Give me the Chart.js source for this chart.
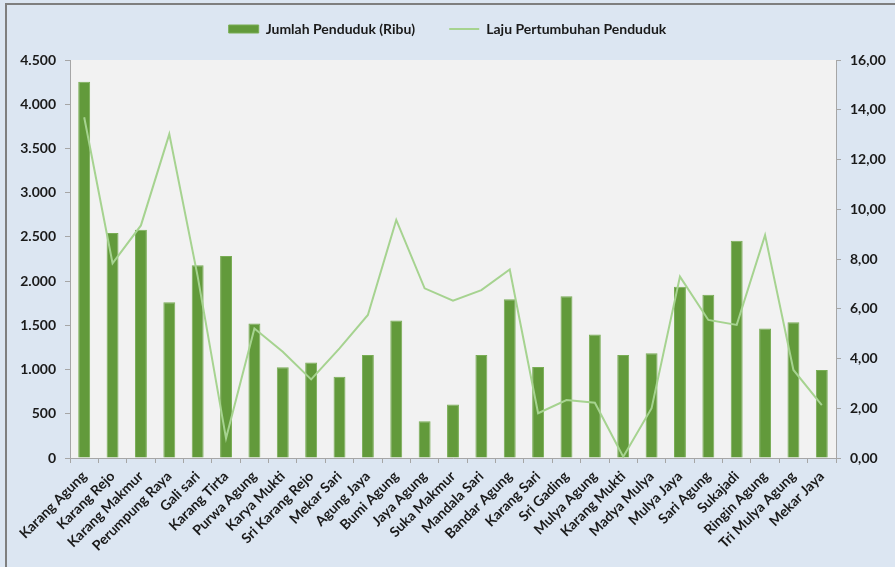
<!DOCTYPE html>
<html>
<head>
    <script src="https://cdn.jsdelivr.net/npm/chart.js"></script>
    <style>
        body { margin: 0; background: #dce6f2; }
    </style>
</head>
<body>
    <canvas id="chart" width="895" height="567"></canvas>
    <script>
        const desa = ['Karang Agung', 'Karang Rejo', 'Karang Makmur', 'Perumpung Raya', 'Gali sari', 'Karang Tirta',
            'Purwa Agung', 'Karya Mukti', 'Sri Karang Rejo', 'Mekar Sari', 'Agung Jaya', 'Bumi Agung', 'Jaya Agung',
            'Suka Makmur', 'Mandala Sari', 'Bandar Agung', 'Karang Sari', 'Sri Gading', 'Mulya Agung', 'Karang Mukti',
            'Madya Mulya', 'Mulya Jaya', 'Sari Agung', 'Sukajadi', 'Ringin Agung', 'Tri Mulya Agung', 'Mekar Jaya'];

        // jumlah penduduk (ribu), sumbu kiri
        const jumlahPenduduk = [4255, 2545, 2580, 1760, 2180, 2285, 1520, 1025, 1080, 920, 1165, 1555, 415,
            605, 1165, 1795, 1030, 1830, 1395, 1165, 1185, 1935, 1845, 2455, 1465, 1535, 995];

        // laju pertumbuhan (%), sumbu kanan
        const lajuPertumbuhan = [13.70, 7.83, 9.35, 13.02, 7.3, 0.79, 5.21, 4.27, 3.16, 4.41, 5.75, 9.57, 6.82,
            6.32, 6.75, 7.58, 1.80, 2.33, 2.22, 0.05, 2.00, 7.29, 5.55, 5.35, 8.96, 3.54, 2.13];

        const leftTicks = [0, 4500, 500];
        const rightTicks = [0, 16, 2];

        const fontTick = { family: 'Lato', weight: 'bold', size: 14 };
        const fontLegend = { family: 'Lato', weight: 'bold', size: 14 };

        const latar = {
            id: 'latar',
            beforeInit(chart) {
                // beri jarak ekstra di bawah legenda
                const lg = chart.legend;
                const fit = lg.fit;
                lg.fit = function () { fit.call(this); this.height += 14; };
            },
            beforeDraw(chart) {
                const c = chart.ctx, a = chart.chartArea;
                c.save();
                c.fillStyle = '#dce6f2';
                c.fillRect(0, 0, chart.width, chart.height);
                c.strokeStyle = '#7f7f7f';
                c.lineWidth = 2;
                c.beginPath();
                c.moveTo(6, chart.height + 2);
                c.lineTo(6, 4);
                c.lineTo(chart.width + 2, 4);
                c.stroke();
                c.fillStyle = '#f2f2f2';
                c.fillRect(a.left, a.top, a.right - a.left, a.bottom - a.top);
                c.restore();
            }
        };

        new Chart(document.getElementById('chart'), {
            type: 'bar',
            data: {
                labels: desa,
                datasets: [
                    {
                        type: 'bar',
                        label: 'Jumlah Penduduk (Ribu)',
                        data: jumlahPenduduk,
                        backgroundColor: '#629a3b',
                        borderColor: '#79ad55',
                        borderWidth: 1,
                        pointStyle: 'rect',
                        yAxisID: 'y',
                        categoryPercentage: 1,
                        barPercentage: 0.42,
                        order: 2
                    },
                    {
                        type: 'line',
                        label: 'Laju Pertumbuhan Penduduk',
                        data: lajuPertumbuhan,
                        borderColor: '#a6d390',
                        backgroundColor: '#a6d390',
                        borderWidth: 2,
                        pointRadius: 0,
                        pointStyle: 'line',
                        tension: 0,
                        yAxisID: 'y1',
                        order: 1
                    }
                ]
            },
            options: {
                responsive: false,
                animation: false,
                layout: { padding: { top: -12 } },
                plugins: {
                    legend: {
                        position: 'top',
                        labels: {
                            usePointStyle: true,
                            pointStyleWidth: 30,
                            boxWidth: 30,
                            boxHeight: 8,
                            padding: 34,
                            color: '#1a1a1a',
                            font: fontLegend,
                            sort: (a, b) => a.datasetIndex - b.datasetIndex
                        }
                    },
                    tooltip: { enabled: false }
                },
                scales: {
                    x: {
                        grid: { drawOnChartArea: false, drawTicks: true, tickLength: 5, color: '#a6a6a6' },
                        border: { color: '#a6a6a6' },
                        ticks: { minRotation: 45, maxRotation: 45, autoSkip: false, color: '#1a1a1a', font: fontTick, padding: 5 },
                        afterFit: s => { s.height = 109; }
                    },
                    y: {
                        position: 'left',
                        min: leftTicks[0], max: leftTicks[1],
                        grid: { drawOnChartArea: false, tickLength: 5, color: '#a6a6a6' },
                        border: { color: '#a6a6a6' },
                        ticks: {
                            stepSize: leftTicks[2], color: '#1a1a1a', font: fontTick, padding: 9,
                            callback: v => v.toLocaleString('de-DE')
                        },
                        afterFit: s => { s.width = 70; }
                    },
                    y1: {
                        position: 'right',
                        min: rightTicks[0], max: rightTicks[1],
                        grid: { drawOnChartArea: false, tickLength: 5, color: '#a6a6a6' },
                        border: { color: '#a6a6a6' },
                        ticks: {
                            stepSize: rightTicks[2], color: '#1a1a1a', font: fontTick, padding: 9,
                            callback: v => v.toFixed(2).replace('.', ',')
                        },
                        afterFit: s => { s.width = 59; }
                    }
                }
            },
            plugins: [latar]
        });
    </script>
</body>
</html>
